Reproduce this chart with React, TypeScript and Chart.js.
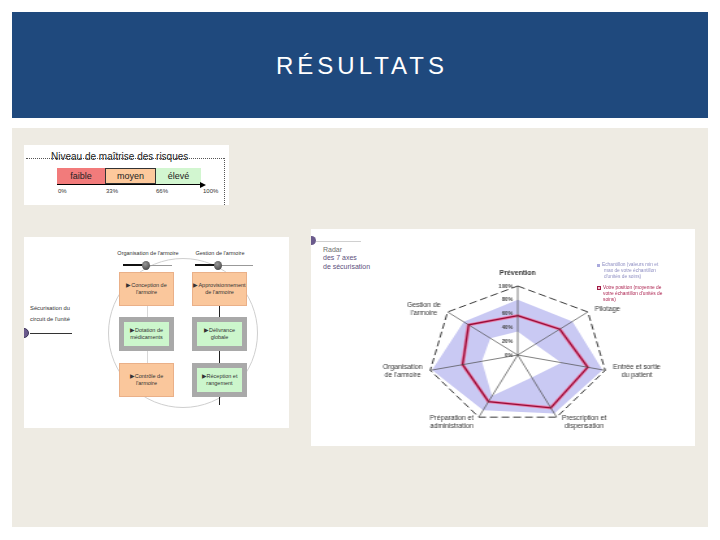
import React, { useEffect, useRef } from 'react';
import { Chart, registerables } from 'chart.js';

Chart.register(...registerables);

// ---------- data ----------
const AXIS_LABELS: string[][] = [
  ['Prévention'],
  ['Pilotage'],
  ['Entrée et sortie', 'du patient'],
  ['Prescription et', 'dispensation'],
  ['Préparation et', 'administration'],
  ['Organisation', "de l'armoire"],
  ['Gestion de', "l'armoire"],
];
const SAMPLE_MAX = [80, 78, 97, 94, 89, 98, 77];
const SAMPLE_MIN = [34, 25, 50, 36, 66, 41, 39];
const POSITION = [57, 60, 80, 85, 75, 63, 70];
const TICK_VALUES = [0, 20, 40, 60, 80, 100];
const TICK_LABELS = ['0%', '20%', '40%', '60%', '80%', '100%'];
const LEVELS = ['faible', 'moyen', 'élevé'];
const LEVEL_TICKS = ['0%', '33%', '66%', '100%'];
const LEGEND_SAMPLE = ['Echantillon (valeurs min et', 'max de votre échantillon', "d'unités de soins)"];
const LEGEND_POSITION = ['Votre position (moyenne de', "votre échantillon d'unités de", 'soins)'];

const SX = 1.3;
const FONT = "'Liberation Sans', Arial, sans-serif";

const labelPlugin = {
  id: 'stretchedLabels',
  afterDraw(chart: any) {
    const s = chart.scales.r;
    const ctx = chart.ctx as CanvasRenderingContext2D;
    ctx.save();
    const lh = 8;
    AXIS_LABELS.forEach((lines, i) => {
      const p = s.getPointPosition(i, s.drawingArea);
      const a = s.getIndexAngle(i);
      const dx = (p.x - s.xCenter) * SX;
      const dy = p.y - s.yCenter;
      const h = lines.length * lh;
      ctx.font = (i === 0 ? 'bold ' : '') + '7px ' + FONT;
      const bw = Math.max(...lines.map((l) => ctx.measureText(l).width));
      const sin = Math.sin(a);
      const cos = Math.cos(a);
      let cx: number;
      let cy: number;
      if (Math.abs(sin) < 0.05) {
        cx = dx;
        cy = dy - 9 - h / 2;
      } else {
        const gap = 3 + 5 * Math.abs(sin);
        cx = sin > 0 ? dx + gap + bw / 2 : dx - gap - bw / 2;
        cy = dy - 5 * cos;
      }
      ctx.fillStyle = '#333';
      ctx.textAlign = 'center';
      ctx.textBaseline = 'middle';
      lines.forEach((line, k) => {
        const y = s.yCenter + cy - h / 2 + lh * (k + 0.5);
        ctx.save();
        ctx.translate(s.xCenter + cx / SX, y);
        ctx.scale(1 / SX, 1);
        ctx.fillText(line, 0, 0);
        ctx.restore();
      });
    });
    ctx.font = 'bold 5.5px ' + FONT;
    ctx.fillStyle = '#444';
    ctx.textAlign = 'right';
    ctx.textBaseline = 'middle';
    TICK_VALUES.forEach((v, k) => {
      const y = s.yCenter - s.getDistanceFromCenterForValue(v);
      ctx.save();
      ctx.translate(s.xCenter - 5 / SX, y);
      ctx.scale(1 / SX, 1);
      ctx.fillText(TICK_LABELS[k], 0, 0);
      ctx.restore();
    });
    ctx.restore();
  },
};

function RadarChart() {
  const ref = useRef<HTMLCanvasElement>(null);
  useEffect(() => {
    const chart = new Chart(ref.current as HTMLCanvasElement, {
      type: 'radar',
      data: {
        labels: AXIS_LABELS.map((l) => l.join(' ')),
        datasets: [
          { label: 'Votre position', data: POSITION, borderColor: '#970d38', borderWidth: 1.3, fill: false, pointRadius: 0 },
          { label: 'halo', data: POSITION, borderColor: '#e97da9', borderWidth: 3, fill: false, pointRadius: 0 },
          { label: 'min', data: SAMPLE_MIN, borderWidth: 0, borderColor: 'rgba(0,0,0,0)', backgroundColor: '#ffffff', fill: 'origin', pointRadius: 0 },
          { label: 'max', data: SAMPLE_MAX, borderWidth: 0, borderColor: 'rgba(0,0,0,0)', backgroundColor: '#c9c9f3', fill: 'origin', pointRadius: 0 },
        ],
      } as any,
      options: {
        responsive: false,
        animation: false,
        layout: { padding: { left: 90, right: 67, top: 57, bottom: 22 } },
        plugins: { legend: { display: false }, tooltip: { enabled: false } },
        elements: { line: { tension: 0 } },
        scales: {
          r: {
            min: 0,
            max: 100,
            ticks: { display: false, stepSize: 20 },
            pointLabels: { display: false },
            grid: {
              z: 1,
              color: '#222',
              lineWidth: (c: any) => (c.tick && c.tick.value === 100 ? 0.9 : 0),
            } as any,
            border: { dash: [6, 3] } as any,
            angleLines: { color: '#4a4a4a', lineWidth: 0.7 },
          },
        },
      } as any,
      plugins: [labelPlugin],
    });
    return () => chart.destroy();
  }, []);
  return (
    <div style={{ position: 'absolute', left: 311, top: 229, width: 295, height: 217, transform: `scaleX(${SX})`, transformOrigin: '0 0' }}>
      <canvas ref={ref} width={295} height={217} style={{ width: 295, height: 217, display: 'block' }} />
    </div>
  );
}

const abs = (l: number, t: number, w: number, h: number, extra: React.CSSProperties = {}): React.CSSProperties => ({
  position: 'absolute', left: l, top: t, width: w, height: h, ...extra,
});

function Box({ l, t, green, lines }: { l: number; t: number; green: boolean; lines: string[] }) {
  const w = 55;
  const h = green ? 34 : 33.5;
  const inner = (
    <div style={{ display: 'flex', flexDirection: 'column', alignItems: 'center', justifyContent: 'center', width: '100%', height: '100%', fontSize: 5.5, lineHeight: '7px', color: '#333', textAlign: 'center', fontFamily: FONT }}>
      {lines.map((s, i) => <div key={i}>{s}</div>)}
    </div>
  );
  if (green) {
    return (
      <div style={abs(l, t, w, h, { background: '#a9a9a9' })}>
        <div style={abs(5, 5, w - 10, h - 10, { background: '#ccf6cc' })}>{inner}</div>
      </div>
    );
  }
  return <div style={abs(l, t, w, h, { background: '#fac79c', boxSizing: 'border-box', border: '1px solid #eab088' })}>{inner}</div>;
}

function Diagram() {
  return (
    <div style={abs(24, 237, 265, 191, { background: '#fff', overflow: 'hidden', fontFamily: FONT })}>
      <div style={abs(84, 21, 150, 150, { borderRadius: '50%', border: '1px solid #cfcfcf', boxSizing: 'border-box' })} />
      <div style={abs(-5, 91, 10, 10, { borderRadius: '50%', background: '#6a5a8c', border: '1px solid #3d3458', boxSizing: 'border-box' })} />
      <div style={abs(6, 96, 42, 1, { background: '#333' })} />
      <div style={abs(0, 66, 52, 20, { fontSize: 5.8, lineHeight: '11px', color: '#333', textAlign: 'center', whiteSpace: 'nowrap' })}>
        <div>Sécurisation du</div>
        <div>circuit de l'unité</div>
      </div>
      <div style={abs(92, 13, 64, 8, { fontSize: 5.5, color: '#333', textAlign: 'center', whiteSpace: 'nowrap' })}>Organisation de l'armoire</div>
      <div style={abs(166, 13, 60, 8, { fontSize: 5.5, color: '#333', textAlign: 'center', whiteSpace: 'nowrap' })}>Gestion de l'armoire</div>
      <div style={abs(99, 27, 23, 2, { background: '#111' })} />
      <div style={abs(122, 27.5, 26, 1, { background: '#999' })} />
      <div style={abs(171, 27, 23, 2, { background: '#111' })} />
      <div style={abs(194, 27.5, 35, 1, { background: '#999' })} />
      <div style={abs(118, 24, 8, 9, { borderRadius: '50%', background: 'radial-gradient(circle at 40% 35%, #999, #333)' })} />
      <div style={abs(190, 24, 8, 9, { borderRadius: '50%', background: 'radial-gradient(circle at 40% 35%, #999, #333)' })} />
      <div style={abs(123, 68, 1, 58, { background: '#d8d8d8' })} />
      <div style={abs(195, 68, 1, 12, { background: '#222' })} />
      <div style={abs(195, 114, 1, 12, { background: '#222' })} />
      <div style={abs(195, 160, 1, 8, { background: '#222' })} />
      <Box l={95} t={35} green={false} lines={['▶Conception de', "l'armoire"]} />
      <Box l={168} t={35} green={false} lines={['▶Approvisionnement', "de l'armoire"]} />
      <Box l={95} t={80} green={true} lines={['▶Dotation de', 'médicaments']} />
      <Box l={168} t={80} green={true} lines={['▶Délivrance globale']} />
      <Box l={95} t={126} green={false} lines={["▶Contrôle de l'armoire"]} />
      <Box l={168} t={126} green={true} lines={['▶Réception et', 'rangement']} />
    </div>
  );
}

function RiskBar() {
  const colors = ['#f27b7b', '#fdc99c', '#d2f6d0'];
  const xs = [33, 81, 132];
  const ws = [48, 51, 45];
  const tickX = [36, 84, 134, 181];
  return (
    <div style={abs(24, 145, 205, 60, { background: '#fff', fontFamily: FONT })}>
      <div style={abs(2, 13, 198, 0, { borderTop: '1px dotted #555' })} />
      <div style={abs(200, 13, 0, 47, { borderLeft: '1px dotted #555' })} />
      <div style={abs(27, 5.5, 140, 12, { fontSize: 10, color: '#222', whiteSpace: 'nowrap' })}>Niveau de maîtrise des risques</div>
      {LEVELS.map((lv, i) => (
        <div key={lv} style={abs(xs[i], 23, ws[i], 16, { background: colors[i], boxSizing: 'border-box', border: i === 1 ? '1px solid #333' : 'none', fontSize: 9, lineHeight: i === 1 ? '14px' : '16px', textAlign: 'center', color: '#222' })}>{lv}</div>
      ))}
      <div style={abs(33, 39, 144, 1, { background: '#000' })} />
      <div style={abs(176, 36.5, 0, 0, { borderLeft: '6px solid #000', borderTop: '3px solid transparent', borderBottom: '3px solid transparent' })} />
      {LEVEL_TICKS.map((t, i) => (
        <div key={t} style={abs(tickX[i] - 2, 43, 20, 8, { fontSize: 6, color: '#333', whiteSpace: 'nowrap' })}>{t}</div>
      ))}
    </div>
  );
}

function RadarPanel() {
  return (
    <>
      <div style={abs(311, 229, 384, 217, { background: '#fff', overflow: 'hidden' })}>
        <div style={abs(-4.5, 7, 9, 9, { borderRadius: '50%', background: '#6a5a8c' })} />
        <div style={abs(5, 12, 45, 1, { background: '#d0d0d0' })} />
      </div>
      <div style={abs(323, 246, 60, 30, { fontFamily: FONT, fontSize: 7, lineHeight: '8.3px', color: '#5d4f7c' })}>
        <div style={{ color: '#6e6e6e' }}>Radar</div>
        <div>des 7 axes</div>
        <div>de sécurisation</div>
      </div>
      <RadarChart />
      <div style={abs(597, 262, 70, 20, { fontFamily: FONT, fontSize: 4.8, lineHeight: '6px', color: '#8e8ec2', whiteSpace: 'nowrap' })}>
        <div style={abs(0, 1.5, 3, 3, { background: '#aaaadd' })} />
        {LEGEND_SAMPLE.map((s, i) => <div key={i} style={{ paddingLeft: i === 0 ? 5 : 7 }}>{s}</div>)}
      </div>
      <div style={abs(597, 284.5, 70, 20, { fontFamily: FONT, fontSize: 4.8, lineHeight: '6px', color: '#ad2451', whiteSpace: 'nowrap' })}>
        <div style={abs(0, 1, 4, 4, { background: '#f3c6d6', border: '1px solid #a01c44', boxSizing: 'border-box' })} />
        {LEGEND_POSITION.map((s, i) => <div key={i} style={{ paddingLeft: 6 }}>{s}</div>)}
      </div>
    </>
  );
}

export default function App() {
  return (
    <div style={{ position: 'absolute', left: 0, top: 0, width: 720, height: 540, background: '#fff', overflow: 'hidden' }}>
      <div style={abs(12, 12, 696, 106, { background: '#1f497d', display: 'flex', alignItems: 'center', justifyContent: 'center' })}>
        <div style={{ color: '#fff', fontFamily: FONT, fontSize: 24, letterSpacing: 4, paddingLeft: 4, marginTop: 2 }}>RÉSULTATS</div>
      </div>
      <div style={abs(12, 128, 696, 399, { background: '#eeebe3' })} />
      <RiskBar />
      <Diagram />
      <RadarPanel />
    </div>
  );
}
